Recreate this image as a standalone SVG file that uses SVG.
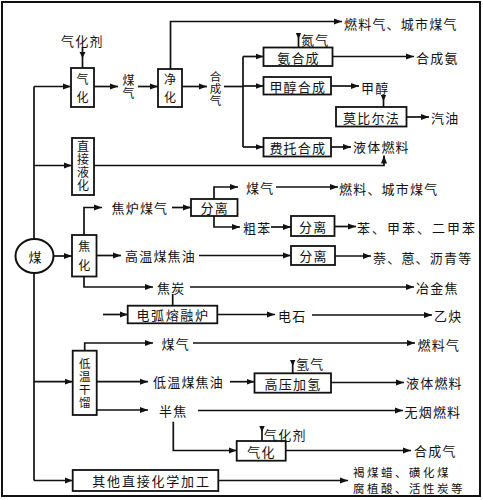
<svg xmlns="http://www.w3.org/2000/svg" width="483" height="500" viewBox="0 0 483 500">
<style>
text{font-family:"Noto Sans CJK SC","Noto Sans",sans-serif;font-size:13px;fill:#111;dominant-baseline:central;letter-spacing:1.2px}
.m{text-anchor:middle}
.vt{writing-mode:vertical-rl;text-anchor:middle;font-size:12px}
.box{fill:#fff;stroke:#111;stroke-width:1.8}
.ln{fill:none;stroke:#111;stroke-width:1.7}
.a{marker-end:url(#ah)}
.tri{fill:#111}
</style>
<defs>
<marker id="ah" markerUnits="userSpaceOnUse" markerWidth="9" markerHeight="7" refX="8" refY="3.5" orient="auto">
<path d="M0,0.5 L8,3.5 L0,6.5 z" fill="#111"/>
</marker>
</defs>
<rect x="2" y="2" width="478" height="494" fill="#fff" stroke="#111" stroke-width="2"/>

<g id="connectors">
<path class="ln" d="M34,86.5 V239"/>
<path class="ln" d="M34,273 V480.5"/>
<path class="ln a" d="M34,86.5 H71"/>
<path class="ln" d="M82.5,47 V68"/>
<polygon class="tri" points="79.5,52 85.5,52 82.5,58"/>
<path class="ln a" d="M94,86.5 H118"/>
<path class="ln a" d="M138,86.5 H158"/>
<path class="ln a" d="M170.5,69 V21.5 H342"/>
<path class="ln a" d="M182,86.5 H207"/>
<path class="ln" d="M224,86.5 H243"/>
<path class="ln" d="M243,56.5 V147"/>
<path class="ln a" d="M243,56.5 H263.5"/>
<path class="ln a" d="M243,86 H263.5"/>
<path class="ln a" d="M243,147 H263.5"/>
<path class="ln" d="M298.5,33 V47.5"/>
<polygon class="tri" points="295.8,33 301.2,33 298.5,39"/>
<path class="ln a" d="M332.5,56.5 H414"/>
<path class="ln a" d="M331,86 H359"/>
<path class="ln" d="M383.5,95 V107"/>
<polygon class="tri" points="380.8,95 386.2,95 383.5,101"/>
<path class="ln a" d="M406.5,117 H429"/>
<path class="ln a" d="M331,147 H351"/>
<path class="ln a" d="M34,165.5 H72"/>
<path class="ln a" d="M94,165.5 H384 V155.5"/>
<path class="ln a" d="M53,256 H72"/>
<path class="ln a" d="M84,235 V207.5 H102"/>
<path class="ln a" d="M172,207.5 H191"/>
<path class="ln a" d="M214,199 V187 H238"/>
<path class="ln a" d="M214,216 V227 H240"/>
<path class="ln a" d="M276,187 H338"/>
<path class="ln a" d="M271,227 H291"/>
<path class="ln a" d="M334.5,226.5 H356"/>
<path class="ln a" d="M96.5,255.5 H121"/>
<path class="ln a" d="M199,255.5 H291"/>
<path class="ln a" d="M335,256 H371"/>
<path class="ln a" d="M84,276.5 V287 H153"/>
<path class="ln a" d="M190,287 H414"/>
<path class="ln" d="M172.7,294 V305.7"/>
<path class="ln a" d="M103,314.5 H127.7"/>
<path class="ln a" d="M217.3,314.5 H275"/>
<path class="ln a" d="M312,315 H432"/>
<path class="ln a" d="M34,381.7 H72.7"/>
<path class="ln a" d="M84.7,350.7 V343 H153"/>
<path class="ln a" d="M193,343 H415"/>
<path class="ln a" d="M96.7,381.7 H148"/>
<path class="ln a" d="M230,381.7 H254.5"/>
<path class="ln" d="M292.7,360 V373.3"/>
<polygon class="tri" points="290,360 295.4,360 292.7,366"/>
<path class="ln a" d="M331,382.5 H404"/>
<path class="ln a" d="M96.7,410 H148"/>
<path class="ln a" d="M198,410.5 H403"/>
<path class="ln a" d="M173.3,421.7 V450.5 H236.7"/>
<path class="ln" d="M262,426 V441"/>
<polygon class="tri" points="259.3,426 264.7,426 262,432"/>
<path class="ln a" d="M285.7,450.5 H411"/>
<path class="ln a" d="M34,480.5 H72.7"/>
<path class="ln a" d="M218.3,480.5 H348"/>
</g>

<g id="coal"><ellipse cx="34.5" cy="256" rx="19" ry="17" fill="#fff" stroke="#111" stroke-width="2"/><text class="m" x="35" y="256.5" style="letter-spacing:0">煤</text></g>

<g id="gasify1"><rect class="box" x="71" y="68" width="23" height="39"/><text class="vt" x="82.5" y="91" style="letter-spacing:6px">气化</text></g>
<g id="agent1"><text x="61" y="40">气化剂</text></g>
<g id="coalgas1"><text class="vt" x="128.5" y="87" style="letter-spacing:1px">煤气</text></g>
<g id="purify"><rect class="box" x="158" y="69" width="24" height="38"/><text class="vt" x="170" y="91" style="letter-spacing:6px">净化</text></g>
<g id="fuelgas1"><text x="344" y="23">燃料气、城市煤气</text></g>
<g id="syngas1"><text class="vt" x="215.5" y="89.3" style="font-size:11.5px;letter-spacing:0.5px">合成气</text></g>
<g id="ammonia"><rect class="box" x="263.5" y="47.5" width="69" height="18.5"/><text class="m" x="298.5" y="57">氨合成</text></g>
<g id="nitrogen"><text x="301" y="39">氮气</text></g>
<g id="ammonia-out"><text x="416" y="57">合成氨</text></g>
<g id="methanol-syn"><rect class="box" x="263.5" y="77" width="67.5" height="17.5"/><text class="m" x="297.8" y="86">甲醇合成</text></g>
<g id="methanol"><text x="361" y="87">甲醇</text></g>
<g id="mobil"><rect class="box" x="336" y="107" width="70.5" height="19.5"/><text class="m" x="371.5" y="117">莫比尔法</text></g>
<g id="gasoline"><text x="431" y="117">汽油</text></g>
<g id="ft"><rect class="box" x="263.5" y="138" width="67.5" height="18.5"/><text class="m" x="297.8" y="147">费托合成</text></g>
<g id="liquid1"><text x="353" y="146.5">液体燃料</text></g>
<g id="direct-liq"><rect class="box" x="72" y="138" width="22" height="57"/><text class="vt" x="83" y="166.5" style="letter-spacing:1px">直接液化</text></g>

<g id="coking"><rect class="box" x="72" y="235" width="24.5" height="41.5"/><text class="vt" x="84.2" y="259" style="letter-spacing:6.5px">焦化</text></g>
<g id="cokegas"><text x="111.5" y="207.5">焦炉煤气</text></g>
<g id="sep1"><rect class="box" x="191" y="199" width="46.5" height="17"/><text class="m" x="214.8" y="207.5">分离</text></g>
<g id="coalgas2"><text x="246" y="187">煤气</text></g>
<g id="fuel2"><text x="339" y="188">燃料、城市煤气</text></g>
<g id="crudebenz"><text x="243" y="227">粗苯</text></g>
<g id="sep2"><rect class="box" x="291" y="216" width="43.5" height="20"/><text class="m" x="313.3" y="226">分离</text></g>
<g id="benzenes"><text x="357" y="227.5" style="letter-spacing:2px">苯、甲苯、二甲苯</text></g>
<g id="hightar"><text x="125" y="255.5">高温煤焦油</text></g>
<g id="sep3"><rect class="box" x="291" y="246" width="44" height="19"/><text class="m" x="313.5" y="255.5">分离</text></g>
<g id="naph"><text x="373" y="257">萘、蒽、沥青等</text></g>
<g id="coke"><text x="157" y="287">焦炭</text></g>
<g id="metcoke"><text x="416" y="287">冶金焦</text></g>
<g id="arc"><rect class="box" x="127.7" y="305.7" width="89.6" height="17.6"/><text class="m" x="173" y="314.5" style="letter-spacing:1.6px">电弧熔融炉</text></g>
<g id="carbide"><text x="278" y="315">电石</text></g>
<g id="acetylene"><text x="434" y="315">乙炔</text></g>

<g id="lowtemp"><rect class="box" x="72.7" y="350.7" width="24" height="64.3"/><text class="vt" x="84.7" y="383.5" style="font-size:11.5px;letter-spacing:1.5px">低温干馏</text></g>
<g id="coalgas3"><text x="161.5" y="343">煤气</text></g>
<g id="fuelgas3"><text x="417.5" y="344.5">燃料气</text></g>
<g id="lowtar"><text x="153" y="381.7">低温煤焦油</text></g>
<g id="hydro"><rect class="box" x="254.5" y="373.3" width="76.5" height="19.4"/><text class="m" x="293" y="383">高压加氢</text></g>
<g id="hydrogen"><text x="296" y="363">氢气</text></g>
<g id="liquid2"><text x="406" y="382.7">液体燃料</text></g>
<g id="semicoke"><text x="159" y="410">半焦</text></g>
<g id="smokeless"><text x="404.5" y="411.5">无烟燃料</text></g>
<g id="gasify2"><rect class="box" x="236.7" y="441" width="49" height="19.7"/><text class="m" x="261.5" y="451">气化</text></g>
<g id="agent2"><text x="264" y="434.5">气化剂</text></g>
<g id="syngas2"><text x="414" y="450.5">合成气</text></g>
<g id="other"><rect class="box" x="72.7" y="470" width="145.6" height="21"/><text class="m" x="151.5" y="480.5" style="letter-spacing:1.8px">其他直接化学加工</text></g>
<g id="products"><text x="353" y="471.5" style="font-size:11.5px;letter-spacing:2.5px">褐煤蜡、磺化煤</text><text x="353" y="487.5" style="font-size:11.5px;letter-spacing:2.5px">腐植酸、活性炭等</text></g>
</svg>
